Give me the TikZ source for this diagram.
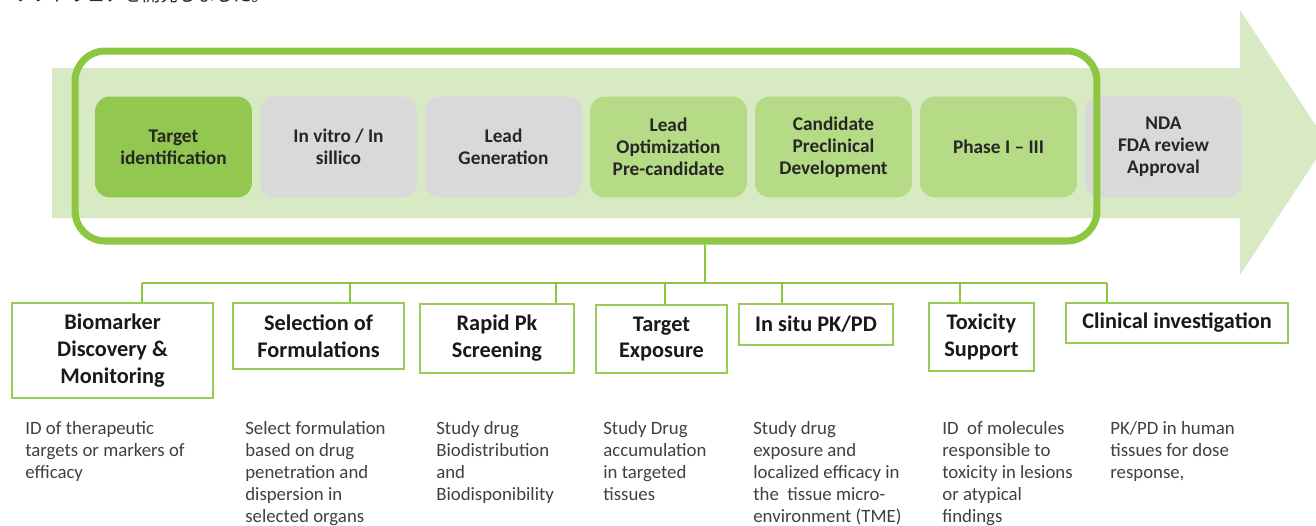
\documentclass[tikz,border=0pt]{standalone}
\usepackage{fontspec}
\setmainfont{Carlito}
\newfontfamily\jpfont{Noto Sans CJK JP}
\usetikzlibrary{positioning,calc}
\definecolor{arrowgreen}{RGB}{216,234,196}
\definecolor{framegreen}{RGB}{141,198,63}
\definecolor{darkstage}{RGB}{146,200,80}
\definecolor{lightstage}{RGB}{182,219,134}
\definecolor{graystage}{RGB}{217,217,217}
\definecolor{notegray}{RGB}{64,64,64}
\tikzset{>=latex}
\tikzset{
  stage/.style={rounded corners=0.3cm, minimum width=3.14cm, minimum height=2.02cm,
    inner sep=2pt, align=center, text=black!85,
    font=\bfseries\fontsize{11}{12.5}\selectfont},
  stagedark/.style={stage, fill=darkstage},
  stagelight/.style={stage, fill=lightstage},
  stagegray/.style={stage, fill=graystage},
  frame/.style={draw=framegreen, line width=4pt, rounded corners=0.6cm,
    minimum width=20.44cm, minimum height=3.8cm},
  link/.style={draw=framegreen, line width=1.6pt},
  task/.style={draw=framegreen!90, line width=1.1pt, fill=white, anchor=north,
    align=center, inner sep=2pt, text=black!90,
    font=\bfseries\fontsize{12.7}{15.3}\selectfont},
  note/.style={anchor=north west, inner sep=0pt, align=left, text=notegray,
    font=\fontsize{10.7}{12.5}\selectfont}
}

\begin{document}
\begin{tikzpicture}[x=0.02cm, y=-0.02cm]
  \useasboundingbox (0,0) rectangle (1316,525);
  \clip (0,0) rectangle (1316,525);
  % cut-off caption line
  \node[anchor=base west, inner sep=0pt, text=black!85,
    font=\jpfont\fontsize{10.4}{11}\selectfont] (caption) at (14,1.5) {ソフトウェアを開発しました。};

  % pipeline arrow
  \fill[arrowgreen] (52,68) -- (1240,68) -- (1240,10) -- (1327,142.5)
    -- (1240,275) -- (1240,218) -- (52,218) -- cycle;

  % stages
  \node[stagedark]  (target) at (173.5,147) {Target\\identification};
  \node[stagegray]  (vitro)  at (338.5,147) {In vitro / In\\sillico};
  \node[stagegray]  (leadgen) at (503.5,147) {Lead\\Generation};
  \node[stagelight] (leadopt) at (668.5,147) {Lead\\Optimization\\Pre-candidate};
  \node[stagelight] (cand)   at (833.5,147) {Candidate\\Preclinical\\Development};
  \node[stagelight] (phase)  at (998.5,147) {Phase I -- III};
  \node[stagegray]  (nda)    at (1163.5,147) {NDA\\FDA review\\Approval};

  \node[frame] (frame) at (586,146) {};

  % services
  \node[task, minimum width=4.02cm, minimum height=1.9cm]  (bio) at (112.5,302) {Biomarker\\Discovery \&\\Monitoring};
  \node[task, minimum width=3.42cm, minimum height=1.32cm] (sel) at (318.5,302) {Selection of\\Formulations};
  \node[task, minimum width=3.08cm, minimum height=1.38cm] (rpk) at (497,303) {Rapid Pk\\Screening};
  \node[task, minimum width=2.62cm, minimum height=1.36cm] (tex) at (661.5,304) {Target\\Exposure};
  \node[task, minimum width=3.08cm, minimum height=0.82cm] (ins) at (816,303) {In situ PK/PD};
  \node[task, minimum width=2.1cm, minimum height=1.36cm]  (tox) at (981.5,302) {Toxicity\\Support};
  \node[task, minimum width=4.44cm, minimum height=0.8cm]  (cli) at (1177,302) {Clinical investigation};

  % tree
  \coordinate (hub) at (705,283);
  \coordinate (d1) at (142,283);
  \coordinate (d2) at (350,283);
  \coordinate (d3) at (556,283);
  \coordinate (d4) at (665,283);
  \coordinate (d5) at (782,283);
  \coordinate (d6) at (960,283);
  \coordinate (d7) at (1107,283);
  \draw[link] (hub |- frame.south) -- (hub);
  \draw[link] (d1) -- (d7);
  \foreach \d/\b in {d1/bio,d2/sel,d3/rpk,d4/tex,d5/ins,d6/tox,d7/cli}
    \draw[link] (\d) -- (\d |- \b.north);

  % notes
  \node[note] (bionote) at (25,421)  {ID of therapeutic\\targets or markers of\\efficacy};
  \node[note] (selnote) at (245,421) {Select formulation\\based on drug\\penetration and\\dispersion in\\selected organs};
  \node[note] (rpknote) at (436,421) {Study drug\\Biodistribution\\and\\Biodisponibility};
  \node[note] (texnote) at (603,421) {Study Drug\\accumulation\\in targeted\\tissues};
  \node[note] (insnote) at (753,421) {Study drug\\exposure and\\localized efficacy in\\the~ tissue micro-\\environment (TME)};
  \node[note] (toxnote) at (942,421) {ID~ of molecules\\responsible to\\toxicity in lesions\\or atypical\\findings};
  \node[note] (clinote) at (1110,421) {PK/PD in human\\tissues for dose\\response,};
\end{tikzpicture}
\end{document}
